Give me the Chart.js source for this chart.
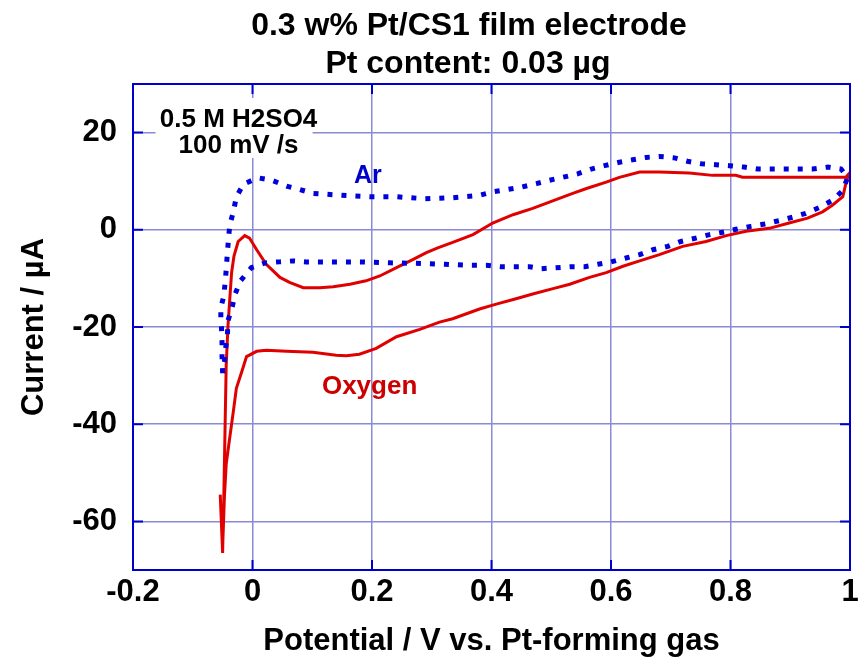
<!DOCTYPE html>
<html>
<head>
<meta charset="utf-8">
<script src="https://cdn.jsdelivr.net/npm/chart.js@4.4.1/dist/chart.umd.min.js"></script>
<style>
  body { margin: 0; background: #fff; }
  #wrap { width: 867px; height: 661px; }
</style>
</head>
<body>
<div id="wrap"><canvas id="cv"></canvas></div>
<script>
// CV in argon (dotted blue), anodic sweep then cathodic sweep
const arPotential = [-0.050, -0.051, -0.051, -0.052, -0.053, -0.053, -0.048, -0.045, -0.042, -0.040, -0.038, -0.032, -0.027, -0.015, 0.009, 0.032, 0.057, 0.079, 0.101, 0.149, 0.196, 0.241, 0.288, 0.335, 0.380, 0.402, 0.427, 0.450, 0.475, 0.497, 0.519, 0.544, 0.567, 0.589, 0.614, 0.636, 0.659, 0.681, 0.706, 0.728, 0.751, 0.776, 0.798, 0.823, 0.846, 0.871, 0.893, 0.915, 0.937, 0.963, 0.985, 0.996,
  0.988, 0.971, 0.949, 0.926, 0.904, 0.882, 0.857, 0.834, 0.809, 0.787, 0.765, 0.742, 0.717, 0.695, 0.670, 0.648, 0.625, 0.600, 0.578, 0.556, 0.533, 0.508, 0.483, 0.464, 0.439, 0.416, 0.391, 0.363, 0.322, 0.274, 0.230, 0.185, 0.138, 0.090, 0.068, 0.045, 0.021, -0.002, -0.020, -0.029, -0.034, -0.041, -0.042, -0.045, -0.047, -0.050];
const arCurrent = [-29.5, -26.0, -23.0, -20.0, -18.5, -16.0, -13.6, -9.8, -4.7, -1.6, 1.0, 3.7, 6.8, 9.4, 10.7, 10.2, 9.0, 8.3, 7.5, 7.1, 6.8, 6.8, 6.4, 6.6, 7.1, 7.8, 8.3, 8.8, 9.5, 10.2, 10.8, 11.5, 12.5, 13.2, 13.9, 14.4, 14.9, 15.1, 14.8, 14.1, 13.6, 13.4, 13.2, 12.9, 12.5, 12.5, 12.5, 12.5, 12.5, 12.9, 12.5, 10.8,
  8.1, 6.1, 4.6, 3.4, 2.6, 1.9, 1.2, 0.7, 0.1, -0.5, -1.0, -1.7, -2.4, -3.4, -4.1, -5.1, -5.8, -6.6, -7.1, -7.6, -7.6, -7.8, -8.0, -7.6, -7.6, -7.6, -7.3, -7.3, -7.1, -6.9, -6.8, -6.6, -6.6, -6.6, -6.4, -6.6, -6.8, -7.8, -10.5, -13.2, -15.9, -18.7, -21.7, -24.4, -27.1, -29.5];

// CV in oxygen (solid red)
const o2Potential = [-0.054, -0.050, -0.048, -0.046, -0.044, -0.041, -0.038, -0.035, -0.031, -0.024, -0.013, -0.005, 0.007, 0.023, 0.046, 0.062, 0.085, 0.113, 0.135, 0.163, 0.190, 0.213, 0.241, 0.269, 0.291, 0.310, 0.335, 0.369, 0.402, 0.436, 0.469, 0.508, 0.536, 0.559, 0.592, 0.614, 0.648, 0.681, 0.731, 0.770, 0.809, 0.820, 0.993, 0.998,
  0.993, 0.988, 0.971, 0.954, 0.929, 0.898, 0.865, 0.826, 0.793, 0.759, 0.720, 0.681, 0.648, 0.620, 0.592, 0.564, 0.531, 0.503, 0.469, 0.441, 0.408, 0.380, 0.335, 0.313, 0.280, 0.241, 0.207, 0.179, 0.157, 0.140, 0.101, 0.057, 0.023, 0.007, -0.010, -0.018, -0.027, -0.032, -0.038, -0.044, -0.047, -0.050];
const o2Current = [-54.5, -66.5, -55.0, -41.3, -27.8, -19.7, -14.2, -8.8, -5.4, -2.4, -1.2, -1.7, -4.1, -7.1, -9.8, -10.8, -11.9, -11.9, -11.7, -11.2, -10.5, -9.5, -7.8, -6.1, -4.7, -3.7, -2.6, -1.0, 1.4, 3.1, 4.4, 6.2, 7.5, 8.5, 9.8, 10.8, 11.9, 11.9, 11.7, 11.2, 11.2, 10.8, 10.8, 11.5,
  9.5, 6.8, 5.1, 3.7, 2.4, 1.4, 0.3, -0.3, -1.2, -2.4, -3.4, -5.1, -6.4, -7.5, -8.8, -9.8, -11.2, -12.1, -13.2, -14.2, -15.3, -16.3, -18.3, -19.0, -20.5, -22.0, -24.4, -25.6, -25.9, -25.8, -25.2, -25.0, -24.8, -25.0, -26.1, -29.2, -32.6, -37.3, -42.7, -48.2, -54.9, -65.4];

const xTickValues = [-0.2, 0, 0.2, 0.4, 0.6, 0.8, 1];
const xTickLabels = ['-0.2', '0', '0.2', '0.4', '0.6', '0.8', '1'];
const yTickValues = [-60, -40, -20, 0, 20];
const yTickLabels = ['-60', '-40', '-20', '0', '20'];

const titleLines = ['0.3 w% Pt/CS1 film electrode', 'Pt content: 0.03 µg'];
const conditionLines = ['0.5 M H2SO4', '100 mV /s'];

const FONT = '"Liberation Sans", Arial, sans-serif';
const GRID = '#8a8ad6';
const FRAME = '#0000cc';

function toPoints(xs, ys) {
  return xs.map((x, i) => ({ x: x, y: ys[i] }));
}

const extras = {
  id: 'extras',
  afterDatasetsDraw(chart) {
    const { ctx, chartArea: a, scales } = chart;
    const xs = scales.x, ys = scales.y;
    ctx.save();

    // inner tick marks on all four sides
    ctx.strokeStyle = FRAME;
    ctx.lineWidth = 2;
    ctx.beginPath();
    xTickValues.forEach(v => {
      const px = xs.getPixelForValue(v);
      ctx.moveTo(px, a.bottom); ctx.lineTo(px, a.bottom - 10);
      ctx.moveTo(px, a.top); ctx.lineTo(px, a.top + 10);
    });
    yTickValues.forEach(v => {
      const py = ys.getPixelForValue(v);
      ctx.moveTo(a.left, py); ctx.lineTo(a.left + 10, py);
      ctx.moveTo(a.right, py); ctx.lineTo(a.right - 10, py);
    });
    ctx.stroke();
    ctx.strokeRect(a.left, a.top, a.right - a.left, a.bottom - a.top);

    // conditions box
    const cx = xs.getPixelForValue(-0.025);
    ctx.fillStyle = '#fff';
    ctx.fillRect(cx - 82, 98, 157, 60);
    ctx.fillStyle = '#000';
    ctx.font = 'bold 26px ' + FONT;
    ctx.textAlign = 'center';
    ctx.textBaseline = 'middle';
    ctx.fillText(conditionLines[0], cx + 1, ys.getPixelForValue(22.6));
    ctx.fillText(conditionLines[1], cx + 1, ys.getPixelForValue(17.2));

    // curve labels
    ctx.font = 'bold 25px ' + FONT;
    ctx.fillStyle = '#0000cc';
    ctx.fillText('Ar', xs.getPixelForValue(0.193), ys.getPixelForValue(11.0));
    ctx.font = 'bold 26px ' + FONT;
    ctx.fillStyle = '#cc0000';
    ctx.fillText('Oxygen', xs.getPixelForValue(0.196), ys.getPixelForValue(-32.4));

    // title
    ctx.fillStyle = '#000';
    ctx.font = 'bold 32px ' + FONT;
    ctx.fillText(titleLines[0], 469, 26);
    ctx.fillText(titleLines[1], 468, 64);
    ctx.restore();
  }
};

new Chart(document.getElementById('cv'), {
  type: 'scatter',
  data: {
    datasets: [
      {
        label: 'Ar',
        data: toPoints(arPotential, arCurrent),
        showLine: true,
        borderColor: '#0000dd',
        borderWidth: 5,
        borderDash: [5, 9],
        borderCapStyle: 'butt',
        pointRadius: 0,
        tension: 0
      },
      {
        label: 'Oxygen',
        data: toPoints(o2Potential, o2Current),
        showLine: true,
        borderColor: '#e00000',
        borderWidth: 3,
        pointRadius: 0,
        tension: 0
      }
    ]
  },
  plugins: [extras],
  options: {
    responsive: true,
    maintainAspectRatio: false,
    animation: false,
    layout: { padding: { top: 84, right: 17, left: 0, bottom: 0 } },
    plugins: {
      legend: { display: false },
      tooltip: { enabled: false },
      title: { display: false }
    },
    scales: {
      x: {
        type: 'linear',
        min: -0.2,
        max: 1.0,
        afterBuildTicks: s => { s.ticks = xTickValues.map(v => ({ value: v })); },
        afterFit: s => { s.height = 91; },
        ticks: {
          callback: (v, i) => xTickLabels[i],
          font: { family: FONT, size: 31, weight: 'bold' },
          color: '#000',
          padding: 4,
          maxRotation: 0,
          autoSkip: false
        },
        grid: { color: GRID, lineWidth: 1.5, drawTicks: false },
        border: { display: false },
        title: {
          display: true,
          text: 'Potential / V vs. Pt-forming gas',
          font: { family: FONT, size: 31, weight: 'bold' },
          color: '#000',
          padding: { top: 0, bottom: 1 }
        }
      },
      y: {
        type: 'linear',
        min: -70,
        max: 30,
        afterBuildTicks: s => { s.ticks = yTickValues.map(v => ({ value: v })); },
        afterFit: s => { s.width = 133; },
        ticks: {
          callback: (v, i) => yTickLabels[i],
          font: { family: FONT, size: 31, weight: 'bold' },
          color: '#000',
          padding: 16,
          autoSkip: false
        },
        grid: { color: GRID, lineWidth: 1.5, drawTicks: false },
        border: { display: false },
        title: {
          display: true,
          text: 'Current / µA',
          font: { family: FONT, size: 31, weight: 'bold' },
          color: '#000',
          padding: { top: 16, bottom: 0 }
        }
      }
    }
  }
});
</script>
</body>
</html>
